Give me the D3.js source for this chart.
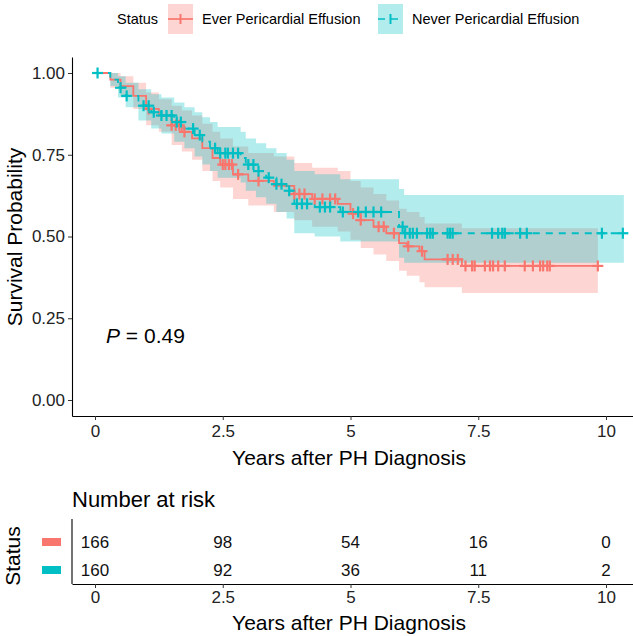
<!DOCTYPE html>
<html>
<head>
<meta charset="utf-8">
<script src="https://cdn.jsdelivr.net/npm/d3@7"></script>
<style>
  body { margin: 0; background: #fff; }
  text { font-family: "Liberation Sans", Arial, sans-serif; }
</style>
</head>
<body>
<div class="km"></div>
<script>
let FRAME_WIDTH = 633;
let FRAME_HEIGHT = 636;

let RED = "#F8766D";
let CYAN = "#00BFC4";

// group names
let GROUPS = ["Ever Pericardial Effusion", "Never Pericardial Effusion"];

// step curve for Ever group (time, survival, lower CI, upper CI)
let EVER_TIMES = [0, 0.3, 0.5, 0.75, 1.0, 1.25, 1.5, 1.7, 1.9, 2.1, 2.3, 2.45, 2.7, 3.0, 3.5, 3.9, 4.25, 4.75, 5.0, 5.2, 5.45, 5.7, 5.95, 6.1, 6.35, 6.45, 7.18, 9.84];
let EVER_SURV  = [1, .98, .96, .93, .89, .87, .84, .82, .80, .77, .74, .72, .69, .67, .655, .63, .615, .60, .57, .55, .53, .51, .48, .47, .455, .43, .41, .41];
let EVER_LOWER = [1, .955, .93, .89, .84, .82, .78, .76, .735, .70, .67, .65, .615, .595, .575, .55, .53, .515, .49, .465, .445, .425, .395, .38, .36, .345, .327, .327];
let EVER_UPPER = [1, 1, .99, .97, .94, .92, .90, .885, .87, .845, .82, .80, .775, .755, .745, .725, .71, .70, .67, .65, .63, .61, .585, .575, .56, .54, .525, .525];
let EVER_CENSOR = [1.05, 1.5, 1.58, 1.65, 1.75, 2.5, 2.55, 2.62, 2.68, 2.8, 3.2, 3.9, 4.0, 4.1, 4.3, 4.45, 4.6, 4.7, 5.05, 5.2, 5.55, 5.65, 5.85, 6.13, 6.4,
                   6.9, 7.0, 7.1, 7.25, 7.38, 7.43, 7.63, 7.73, 7.79, 7.89, 8.02, 8.41, 8.57, 8.71, 8.77, 8.85, 8.9, 9.84];

// step curve for Never group
let NEVER_TIMES = [0, 0.3, 0.45, 0.6, 0.85, 1.1, 1.3, 1.55, 1.75, 1.95, 2.1, 2.25, 2.4, 2.85, 2.95, 3.15, 3.35, 3.55, 3.75, 3.9, 4.3, 4.8, 5.95, 6.05, 10.35];
let NEVER_SURV  = [1, .98, .955, .93, .90, .88, .87, .85, .83, .81, .79, .77, .755, .74, .72, .70, .68, .66, .64, .60, .59, .575, .53, .51, .51];
let NEVER_LOWER = [1, .96, .925, .895, .855, .83, .815, .79, .77, .745, .72, .70, .68, .665, .64, .62, .60, .575, .555, .51, .50, .485, .435, .42, .42];
let NEVER_UPPER = [1, 1, .99, .97, .95, .935, .925, .91, .895, .88, .865, .85, .835, .82, .80, .785, .77, .755, .735, .70, .69, .675, .645, .627, .627];
let NEVER_CENSOR = [0.05, 0.5, 0.62, 0.95, 1.05, 1.15, 1.3, 1.4, 1.5, 1.6, 1.68, 1.92, 2.05, 2.35, 2.45, 2.55, 2.6, 2.7, 2.8, 3.0, 3.1, 3.2, 3.4, 3.55,
                    3.65, 3.8, 3.95, 4.05, 4.15, 4.4, 4.5, 4.6, 4.85, 5.15, 5.3, 5.45, 5.6, 6.02, 6.07, 6.16, 6.22, 6.3, 6.5, 6.56, 6.61,
                    6.9, 6.95, 7.0, 7.77, 7.89, 7.97, 8.02, 8.32, 8.45, 9.92, 10.33];

// axis ticks and risk table
let X_TICKS = [0, 2.5, 5, 7.5, 10];
let Y_TICKS = [0, 0.25, 0.5, 0.75, 1];
let EVER_AT_RISK = [166, 98, 54, 16, 0];
let NEVER_AT_RISK = [160, 92, 36, 11, 2];
let P_LABEL = "0.49";

let FRAME = d3.select('.km')
              .append("svg")
              .attr("width", FRAME_WIDTH)
              .attr("height", FRAME_HEIGHT);

FRAME.append("rect").attr("width", FRAME_WIDTH).attr("height", FRAME_HEIGHT).attr("fill", "#fff");

// scales (panel spans 72..633 horizontally, 57..416 vertically)
const X_SCALE = d3.scaleLinear().domain([0, 10]).range([95, 606]);
const X_AXIS = X_SCALE.copy().domain([X_SCALE.invert(72), X_SCALE.invert(633)]).range([72, 633]);
const Y_SCALE = d3.scaleLinear().domain([0, 1]).range([400, 73]);
const Y_AXIS = Y_SCALE.copy().domain([Y_SCALE.invert(416), Y_SCALE.invert(57)]).range([416, 57]);

function groupData(times, surv, lo, hi) {
    return times.map((t, i) => ({t: t, s: surv[i], lo: lo[i], hi: hi[i]}));
}
let EVER = groupData(EVER_TIMES, EVER_SURV, EVER_LOWER, EVER_UPPER);
let NEVER = groupData(NEVER_TIMES, NEVER_SURV, NEVER_LOWER, NEVER_UPPER);

function survAt(data, t) {
    let i = d3.bisectRight(data.map(d => d.t), t) - 1;
    return data[Math.max(i, 0)].s;
}

let band = d3.area().curve(d3.curveStepAfter)
             .x(d => X_SCALE(d.t)).y0(d => Y_SCALE(d.lo)).y1(d => Y_SCALE(d.hi));
let step = d3.line().curve(d3.curveStepAfter)
             .x(d => X_SCALE(d.t)).y(d => Y_SCALE(d.s));

let plot = FRAME.append("g");

// confidence bands
plot.append("path").attr("d", band(EVER)).attr("fill", RED).attr("fill-opacity", 0.3);
plot.append("path").attr("d", band(NEVER)).attr("fill", CYAN).attr("fill-opacity", 0.3);

// survival steps
plot.append("path").attr("d", step(EVER)).attr("fill", "none")
    .attr("stroke", RED).attr("stroke-width", 1.8);
plot.append("path").attr("d", step(NEVER)).attr("fill", "none")
    .attr("stroke", CYAN).attr("stroke-width", 1.8).attr("stroke-dasharray", "7,6");

// censor marks
function drawCensor(times, data, color) {
    let g = plot.append("g").attr("stroke", color).attr("stroke-width", 2.2);
    times.forEach(t => {
        let cx = X_SCALE(t), cy = Y_SCALE(survAt(data, t));
        g.append("line").attr("x1", cx - 5.5).attr("x2", cx + 5.5).attr("y1", cy).attr("y2", cy);
        g.append("line").attr("x1", cx).attr("x2", cx).attr("y1", cy - 5.5).attr("y2", cy + 5.5);
    });
}
drawCensor(EVER_CENSOR, EVER, RED);
drawCensor(NEVER_CENSOR, NEVER, CYAN);

// axes
function styleAxis(g) {
    g.select(".domain").attr("stroke", "#000").attr("stroke-width", 1.1);
    g.selectAll(".tick line").attr("stroke", "#333");
    g.selectAll(".tick text").attr("fill", "#222").attr("font-size", "17px")
     .attr("font-family", "Liberation Sans, Arial, sans-serif");
}

FRAME.append("g")
    .attr("transform", "translate(0,416)")
    .call(d3.axisBottom(X_AXIS).tickValues(X_TICKS).tickSize(4).tickSizeOuter(0).tickPadding(5).tickFormat(d3.format("")))
    .call(styleAxis);

FRAME.append("g")
    .attr("transform", "translate(72,0)")
    .call(d3.axisLeft(Y_AXIS).tickValues(Y_TICKS).tickSize(4).tickSizeOuter(0).tickPadding(3).tickFormat(d3.format(".2f")))
    .call(styleAxis);

FRAME.append("text").attr("x", 349).attr("y", 465).attr("text-anchor", "middle")
    .attr("font-size", "21px").text("Years after PH Diagnosis");
FRAME.append("text").attr("transform", "translate(22,237) rotate(-90)").attr("text-anchor", "middle")
    .attr("font-size", "21px").text("Survival Probability");

// p value
let pText = FRAME.append("text").attr("x", 106).attr("y", 343).attr("font-size", "21px");
pText.append("tspan").attr("font-style", "italic").text("P");
pText.append("tspan").text(" = " + P_LABEL);

// legend
FRAME.append("text").attr("x", 117).attr("y", 24).attr("font-size", "14.5px").text("Status");
let legendX = [168, 378];
let legendColors = [RED, CYAN];
GROUPS.forEach((name, i) => {
    let lg = FRAME.append("g").attr("transform", "translate(" + legendX[i] + ",4)");
    lg.append("rect").attr("width", 25).attr("height", 30).attr("fill", legendColors[i]).attr("fill-opacity", 0.3);
    lg.append("line").attr("x1", 0).attr("x2", 25).attr("y1", 15).attr("y2", 15)
      .attr("stroke", legendColors[i]).attr("stroke-width", 1.7)
      .attr("stroke-dasharray", i == 1 ? "7,6" : null);
    lg.append("line").attr("x1", 12.5).attr("x2", 12.5).attr("y1", 10).attr("y2", 20)
      .attr("stroke", legendColors[i]).attr("stroke-width", 2);
    lg.append("text").attr("x", 34).attr("y", 20).attr("font-size", "14.5px").text(name);
});

// risk table
let TABLE_AXIS_Y = 584;
FRAME.append("text").attr("x", 72).attr("y", 507).attr("font-size", "22px").text("Number at risk");
let RISK_Y = d3.scalePoint().domain(GROUPS).range([542, 570]);
let risk = FRAME.append("g");
[EVER_AT_RISK, NEVER_AT_RISK].forEach((row, i) => {
    row.forEach((n, j) => {
        risk.append("text").attr("x", X_SCALE(X_TICKS[j])).attr("y", RISK_Y(GROUPS[i]) + 6)
            .attr("text-anchor", "middle").attr("font-size", "17px").attr("fill", "#111").text(n);
    });
    risk.append("rect").attr("x", 42).attr("y", RISK_Y(GROUPS[i]) - 4).attr("width", 19).attr("height", 8)
        .attr("fill", legendColors[i]);
});
FRAME.append("line").attr("x1", 72).attr("x2", 72).attr("y1", 519).attr("y2", TABLE_AXIS_Y)
    .attr("stroke", "#000").attr("stroke-width", 1.1);

FRAME.append("g")
    .attr("transform", "translate(0," + TABLE_AXIS_Y + ")")
    .call(d3.axisBottom(X_AXIS).tickValues(X_TICKS).tickSize(4).tickSizeOuter(0).tickPadding(3).tickFormat(d3.format("")))
    .call(styleAxis);
FRAME.append("text").attr("x", 349).attr("y", 630).attr("text-anchor", "middle")
    .attr("font-size", "21px").text("Years after PH Diagnosis");
FRAME.append("text").attr("transform", "translate(20,556) rotate(-90)").attr("text-anchor", "middle")
    .attr("font-size", "21px").text("Status");
</script>
</body>
</html>
